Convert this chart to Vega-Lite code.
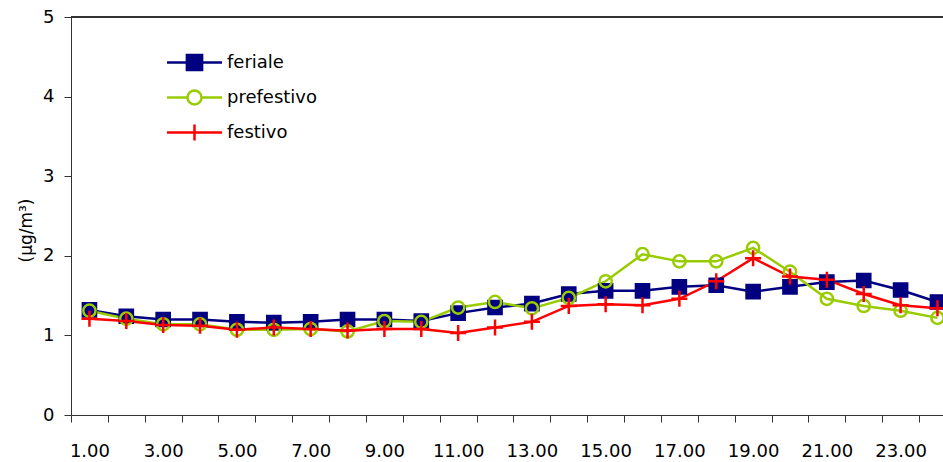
{
  "$schema": "https://vega.github.io/schema/vega-lite/v6.json",
  "width": 872,
  "height": 398,
  "autosize": {"type": "none"},
  "padding": {"left": 71, "top": 17, "right": 0, "bottom": 47},
  "background": "white",
  "config": {
    "view": {"stroke": null},
    "font": "DejaVu Sans",
    "axis": {"labelFont": "DejaVu Sans", "titleFont": "DejaVu Sans", "labelColor": "#000", "titleColor": "#000", "domainColor": "#333", "tickColor": "#333", "grid": false}
  },
  "datasets": {
    "serie": [
      {"ora": 1, "serie": "feriale", "v": 1.32}, {"ora": 2, "serie": "feriale", "v": 1.24}, {"ora": 3, "serie": "feriale", "v": 1.20}, {"ora": 4, "serie": "feriale", "v": 1.20},
      {"ora": 5, "serie": "feriale", "v": 1.17}, {"ora": 6, "serie": "feriale", "v": 1.16}, {"ora": 7, "serie": "feriale", "v": 1.17}, {"ora": 8, "serie": "feriale", "v": 1.20},
      {"ora": 9, "serie": "feriale", "v": 1.20}, {"ora": 10, "serie": "feriale", "v": 1.18}, {"ora": 11, "serie": "feriale", "v": 1.28}, {"ora": 12, "serie": "feriale", "v": 1.35},
      {"ora": 13, "serie": "feriale", "v": 1.40}, {"ora": 14, "serie": "feriale", "v": 1.52}, {"ora": 15, "serie": "feriale", "v": 1.56}, {"ora": 16, "serie": "feriale", "v": 1.56},
      {"ora": 17, "serie": "feriale", "v": 1.61}, {"ora": 18, "serie": "feriale", "v": 1.63}, {"ora": 19, "serie": "feriale", "v": 1.55}, {"ora": 20, "serie": "feriale", "v": 1.61},
      {"ora": 21, "serie": "feriale", "v": 1.67}, {"ora": 22, "serie": "feriale", "v": 1.69}, {"ora": 23, "serie": "feriale", "v": 1.57}, {"ora": 24, "serie": "feriale", "v": 1.42},
      {"ora": 1, "serie": "prefestivo", "v": 1.31}, {"ora": 2, "serie": "prefestivo", "v": 1.21}, {"ora": 3, "serie": "prefestivo", "v": 1.14}, {"ora": 4, "serie": "prefestivo", "v": 1.14},
      {"ora": 5, "serie": "prefestivo", "v": 1.07}, {"ora": 6, "serie": "prefestivo", "v": 1.07}, {"ora": 7, "serie": "prefestivo", "v": 1.08}, {"ora": 8, "serie": "prefestivo", "v": 1.05},
      {"ora": 9, "serie": "prefestivo", "v": 1.18}, {"ora": 10, "serie": "prefestivo", "v": 1.17}, {"ora": 11, "serie": "prefestivo", "v": 1.35}, {"ora": 12, "serie": "prefestivo", "v": 1.42},
      {"ora": 13, "serie": "prefestivo", "v": 1.34}, {"ora": 14, "serie": "prefestivo", "v": 1.47}, {"ora": 15, "serie": "prefestivo", "v": 1.68}, {"ora": 16, "serie": "prefestivo", "v": 2.02},
      {"ora": 17, "serie": "prefestivo", "v": 1.93}, {"ora": 18, "serie": "prefestivo", "v": 1.93}, {"ora": 19, "serie": "prefestivo", "v": 2.10}, {"ora": 20, "serie": "prefestivo", "v": 1.80},
      {"ora": 21, "serie": "prefestivo", "v": 1.46}, {"ora": 22, "serie": "prefestivo", "v": 1.37}, {"ora": 23, "serie": "prefestivo", "v": 1.31}, {"ora": 24, "serie": "prefestivo", "v": 1.22},
      {"ora": 1, "serie": "festivo", "v": 1.21}, {"ora": 2, "serie": "festivo", "v": 1.18}, {"ora": 3, "serie": "festivo", "v": 1.13}, {"ora": 4, "serie": "festivo", "v": 1.12},
      {"ora": 5, "serie": "festivo", "v": 1.07}, {"ora": 6, "serie": "festivo", "v": 1.10}, {"ora": 7, "serie": "festivo", "v": 1.08}, {"ora": 8, "serie": "festivo", "v": 1.06},
      {"ora": 9, "serie": "festivo", "v": 1.08}, {"ora": 10, "serie": "festivo", "v": 1.08}, {"ora": 11, "serie": "festivo", "v": 1.03}, {"ora": 12, "serie": "festivo", "v": 1.10},
      {"ora": 13, "serie": "festivo", "v": 1.17}, {"ora": 14, "serie": "festivo", "v": 1.37}, {"ora": 15, "serie": "festivo", "v": 1.39}, {"ora": 16, "serie": "festivo", "v": 1.38},
      {"ora": 17, "serie": "festivo", "v": 1.46}, {"ora": 18, "serie": "festivo", "v": 1.68}, {"ora": 19, "serie": "festivo", "v": 1.97}, {"ora": 20, "serie": "festivo", "v": 1.74},
      {"ora": 21, "serie": "festivo", "v": 1.70}, {"ora": 22, "serie": "festivo", "v": 1.52}, {"ora": 23, "serie": "festivo", "v": 1.38}, {"ora": 24, "serie": "festivo", "v": 1.34}
    ]
  },
  "data": {"name": "serie"},
  "resolve": {"axis": {"x": "independent"}},
  "encoding": {
    "y": {
      "field": "v", "type": "quantitative",
      "scale": {"domain": [0, 5], "nice": false},
      "axis": {
        "title": "(µg/m³)",
        "values": [0, 1, 2, 3, 4, 5],
        "labelFontSize": 18,
        "labelPadding": 10,
        "tickSize": 7,
        "titleFontSize": 17,
        "titleFontWeight": "normal",
        "titlePadding": 7,
        "titleY": 213
      }
    }
  },
  "layer": [
    {
      "mark": {"type": "rule", "stroke": "#333", "strokeWidth": 1},
      "encoding": {"y": {"datum": 5}}
    },
    {
      "mark": {"type": "line", "strokeWidth": 2.5},
      "encoding": {
        "x": {
          "field": "ora", "type": "quantitative",
          "scale": {"domain": [0.5, 24.15], "nice": false, "zero": false},
          "axis": {
            "orient": "bottom",
            "title": null,
            "values": [0.5, 1.5, 2.5, 3.5, 4.5, 5.5, 6.5, 7.5, 8.5, 9.5, 10.5, 11.5, 12.5, 13.5, 14.5, 15.5, 16.5, 17.5, 18.5, 19.5, 20.5, 21.5, 22.5, 23.5],
            "labels": false,
            "tickSize": 7
          }
        },
        "stroke": {
          "field": "serie", "type": "nominal",
          "scale": {"domain": ["feriale", "prefestivo", "festivo"], "range": ["#000080", "#99CC00", "#FF0000"]},
          "legend": {
            "title": null,
            "orient": "none",
            "legendX": 114,
            "legendY": 36,
            "symbolSize": 256,
            "symbolStrokeWidth": 2.5,
            "labelFontSize": 18,
            "labelFont": "DejaVu Sans",
            "labelColor": "#000",
            "labelOffset": 23,
            "rowPadding": 9,
            "encode": {
              "symbols": {
                "update": {
                  "shape": {"signal": "datum.value === 'feriale' ? 'M-3.44,0H3.44M-0.95,-0.95H0.95V0.95H-0.95Z' : datum.value === 'prefestivo' ? 'M-3.44,0H-0.875M0.875,0H3.44M0.875,0A0.875,0.875,0,1,1,-0.875,0A0.875,0.875,0,1,1,0.875,0Z' : 'M-3.44,0H3.44M0,-1V1'"},
                  "fill": {"signal": "datum.value === 'feriale' ? '#000080' : 'transparent'"},
                  "strokeWidth": {"value": 2.5},
                  "opacity": {"value": 1}
                }
              }
            }
          }
        }
      }
    },
    {
      "transform": [{"filter": "datum.serie === 'feriale'"}],
      "mark": {"type": "point", "shape": "square", "size": 200, "filled": true, "fill": "#000080", "stroke": "#000080", "strokeWidth": 1.5, "opacity": 1},
      "encoding": {
        "x": {
          "field": "ora", "type": "quantitative",
          "scale": {"domain": [0.5, 24.15], "nice": false, "zero": false},
          "axis": {
            "orient": "bottom",
            "title": null,
            "values": [1, 3, 5, 7, 9, 11, 13, 15, 17, 19, 21, 23],
            "format": ".2f",
            "domain": false,
            "ticks": false,
            "labelFlush": false,
            "labelOverlap": false,
            "labelBound": false,
            "labelFontSize": 18,
            "labelPadding": 27
          }
        }
      }
    },
    {
      "transform": [{"filter": "datum.serie === 'prefestivo'"}],
      "mark": {"type": "point", "shape": "circle", "size": 150, "filled": false, "fill": "transparent", "stroke": "#99CC00", "strokeWidth": 2.5, "opacity": 1},
      "encoding": {
        "x": {"field": "ora", "type": "quantitative", "scale": {"domain": [0.5, 24.15], "nice": false, "zero": false}, "axis": null}
      }
    },
    {
      "transform": [{"filter": "datum.serie === 'festivo'"}],
      "mark": {"type": "point", "shape": "M-1,0H1M0,-1V1", "size": 256, "filled": false, "stroke": "#FF0000", "strokeWidth": 2.5, "opacity": 1},
      "encoding": {
        "x": {"field": "ora", "type": "quantitative", "scale": {"domain": [0.5, 24.15], "nice": false, "zero": false}, "axis": null}
      }
    }
  ]
}
